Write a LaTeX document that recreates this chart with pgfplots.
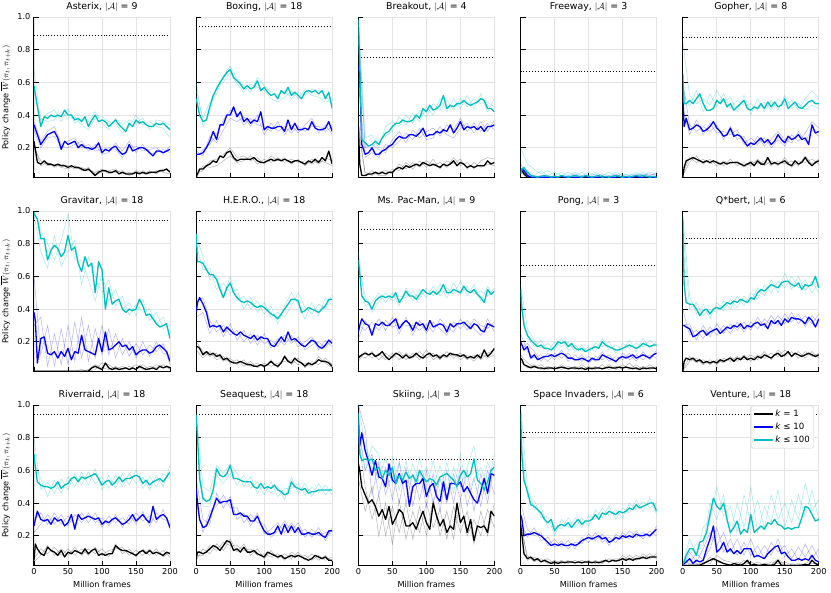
\documentclass[border=0pt]{standalone}
\usepackage{pgfplots}
\pgfplotsset{compat=1.18}
\usepackage{pgfplotstable}
\usepgfplotslibrary{groupplots}
\usepackage{fontspec}
\setmainfont{DejaVu Sans}
\definecolor{cyanc}{RGB}{0,191,191}
\newcommand{\panel}[3]{%
\addplot[black, opacity=0.3, line width=0.5pt, forget plot] table[x=x,y=p1]{#2};
\addplot[black, opacity=0.3, line width=0.5pt, forget plot] table[x=x,y=p2]{#2};
\addplot[blue, opacity=0.3, line width=0.5pt, forget plot] table[x=x,y=q1]{#2};
\addplot[blue, opacity=0.3, line width=0.5pt, forget plot] table[x=x,y=q2]{#2};
\addplot[cyanc, opacity=0.35, line width=0.5pt, forget plot] table[x=x,y=r1]{#2};
\addplot[cyanc, opacity=0.35, line width=0.5pt, forget plot] table[x=x,y=r2]{#2};
\addplot[black, dotted, line width=0.9pt, forget plot] coordinates {(0,#3) (200,#3)};
\addplot[black, line width=1.3pt, line join=round, forget plot] table[x=x,y=a]{#1};
\addplot[blue, line width=1.3pt, line join=round, forget plot] table[x=x,y=b]{#1};
\addplot[cyanc, line width=1.3pt, line join=round, forget plot] table[x=x,y=c]{#1};
}

% ---------------- Asterix
\pgfplotstableread{
x a b c
0 0.24 0.34 0.58
5 0.11 0.28 0.45
10 0.10 0.22 0.33
15 0.12 0.25 0.39
20 0.10 0.28 0.38
25 0.10 0.29 0.40
30 0.09 0.30 0.39
35 0.10 0.26 0.40
40 0.09 0.19 0.39
45 0.09 0.24 0.43
50 0.08 0.22 0.40
55 0.09 0.23 0.40
60 0.08 0.24 0.37
65 0.08 0.20 0.38
70 0.07 0.22 0.36
75 0.06 0.20 0.39
80 0.07 0.20 0.33
85 0.05 0.19 0.37
90 0.03 0.20 0.40
95 0.05 0.23 0.36
100 0.06 0.17 0.37
105 0.06 0.19 0.36
110 0.05 0.18 0.33
115 0.05 0.20 0.35
120 0.06 0.21 0.37
125 0.04 0.18 0.34
130 0.05 0.16 0.32
135 0.04 0.17 0.30
140 0.04 0.22 0.35
145 0.04 0.18 0.33
150 0.05 0.19 0.37
155 0.04 0.20 0.35
160 0.05 0.20 0.36
165 0.04 0.19 0.34
170 0.05 0.17 0.33
175 0.05 0.15 0.33
180 0.05 0.18 0.35
185 0.06 0.18 0.34
190 0.06 0.17 0.35
195 0.07 0.18 0.33
200 0.05 0.19 0.31
}\tAst
\pgfplotstableread{
x p1 p2 q1 q2 r1 r2
0 0.22 0.20 0.36 0.31 0.68 0.55
10 0.09 0.12 0.24 0.20 0.36 0.38
20 0.11 0.09 0.30 0.26 0.41 0.36
30 0.08 0.10 0.33 0.27 0.43 0.37
40 0.10 0.08 0.22 0.21 0.36 0.42
50 0.09 0.07 0.24 0.20 0.44 0.38
60 0.07 0.09 0.26 0.22 0.35 0.39
70 0.08 0.06 0.20 0.24 0.38 0.34
80 0.06 0.08 0.22 0.18 0.36 0.31
90 0.05 0.04 0.18 0.22 0.42 0.38
100 0.07 0.05 0.19 0.16 0.35 0.39
110 0.04 0.06 0.20 0.17 0.31 0.36
120 0.05 0.07 0.19 0.23 0.38 0.35
130 0.06 0.04 0.14 0.18 0.34 0.29
140 0.03 0.05 0.20 0.24 0.37 0.33
150 0.06 0.04 0.21 0.17 0.35 0.40
160 0.04 0.06 0.18 0.22 0.38 0.34
170 0.06 0.04 0.19 0.16 0.31 0.36
180 0.04 0.06 0.20 0.17 0.37 0.33
190 0.07 0.05 0.16 0.19 0.36 0.32
200 0.06 0.04 0.21 0.17 0.34 0.26
}\sAst
% ---------------- Boxing
\pgfplotstableread{
x a b c
0 0.02 0.16 0.50
5 0.07 0.16 0.40
10 0.07 0.17 0.36
15 0.09 0.20 0.37
20 0.10 0.24 0.45
25 0.12 0.30 0.52
30 0.11 0.25 0.56
35 0.15 0.34 0.60
40 0.14 0.34 0.63
45 0.17 0.40 0.66
50 0.18 0.40 0.68
55 0.14 0.45 0.63
60 0.12 0.39 0.61
65 0.13 0.42 0.59
70 0.13 0.36 0.56
75 0.13 0.38 0.58
80 0.13 0.35 0.56
85 0.14 0.37 0.57
90 0.12 0.36 0.61
95 0.11 0.42 0.55
100 0.11 0.31 0.57
105 0.12 0.33 0.54
110 0.13 0.32 0.52
115 0.12 0.32 0.53
120 0.13 0.33 0.50
125 0.12 0.33 0.55
130 0.13 0.30 0.53
135 0.12 0.37 0.57
140 0.11 0.31 0.52
145 0.12 0.35 0.54
150 0.12 0.31 0.52
155 0.11 0.31 0.50
160 0.10 0.32 0.54
165 0.12 0.31 0.55
170 0.11 0.36 0.54
175 0.13 0.32 0.55
180 0.11 0.31 0.53
185 0.14 0.31 0.55
190 0.12 0.32 0.50
195 0.18 0.36 0.54
200 0.10 0.30 0.44
}\tBox
\pgfplotstableread{
x p1 p2 q1 q2 r1 r2
0 0.04 0.03 0.14 0.18 0.55 0.60
10 0.06 0.09 0.19 0.15 0.38 0.33
20 0.12 0.08 0.22 0.27 0.48 0.42
30 0.13 0.09 0.28 0.23 0.53 0.58
40 0.16 0.12 0.37 0.31 0.64 0.60
50 0.20 0.15 0.43 0.38 0.70 0.66
60 0.14 0.11 0.41 0.36 0.62 0.59
70 0.15 0.12 0.34 0.39 0.58 0.54
80 0.12 0.15 0.38 0.33 0.54 0.59
90 0.14 0.10 0.34 0.40 0.63 0.57
100 0.10 0.13 0.33 0.28 0.58 0.55
110 0.15 0.11 0.30 0.35 0.54 0.50
120 0.12 0.14 0.36 0.30 0.52 0.48
130 0.14 0.11 0.28 0.33 0.55 0.51
140 0.10 0.13 0.34 0.29 0.50 0.55
150 0.13 0.11 0.29 0.33 0.54 0.50
160 0.09 0.12 0.34 0.30 0.52 0.56
170 0.13 0.10 0.38 0.33 0.56 0.52
180 0.10 0.12 0.29 0.33 0.55 0.51
190 0.14 0.11 0.34 0.30 0.52 0.48
200 0.12 0.09 0.28 0.33 0.46 0.49
}\sBox
% ---------------- Breakout
\pgfplotstableread{
x a b c
0 0.33 0.70 0.98
2 0.10 0.65 0.70
5 0.03 0.22 0.25
10 0.03 0.16 0.23
15 0.04 0.17 0.21
20 0.04 0.20 0.22
25 0.05 0.16 0.24
30 0.04 0.16 0.22
35 0.05 0.18 0.26
40 0.04 0.19 0.29
45 0.05 0.21 0.30
50 0.05 0.22 0.33
55 0.07 0.25 0.35
60 0.08 0.27 0.35
65 0.07 0.26 0.37
70 0.09 0.26 0.36
75 0.08 0.28 0.36
80 0.09 0.28 0.37
85 0.10 0.27 0.40
90 0.09 0.29 0.38
95 0.11 0.32 0.44
100 0.10 0.27 0.42
105 0.09 0.28 0.46
110 0.10 0.28 0.43
115 0.09 0.30 0.44
120 0.08 0.29 0.46
125 0.10 0.31 0.52
130 0.09 0.30 0.44
135 0.10 0.34 0.46
140 0.12 0.29 0.45
145 0.09 0.32 0.47
150 0.11 0.36 0.47
155 0.10 0.31 0.49
160 0.08 0.33 0.47
165 0.09 0.32 0.46
170 0.08 0.33 0.47
175 0.09 0.31 0.48
180 0.09 0.33 0.50
185 0.09 0.30 0.49
190 0.12 0.33 0.44
195 0.10 0.33 0.44
200 0.11 0.34 0.42
}\tBrk
\pgfplotstableread{
x p1 p2 q1 q2 r1 r2
0 0.30 0.35 0.95 0.60 1.00 0.85
10 0.05 0.03 0.20 0.14 0.26 0.20
20 0.03 0.06 0.22 0.17 0.28 0.20
30 0.05 0.03 0.19 0.14 0.20 0.25
40 0.06 0.03 0.17 0.22 0.33 0.27
50 0.04 0.07 0.25 0.20 0.36 0.30
60 0.10 0.06 0.30 0.24 0.33 0.39
70 0.07 0.11 0.23 0.29 0.40 0.34
80 0.11 0.07 0.31 0.25 0.35 0.41
90 0.08 0.12 0.26 0.32 0.43 0.36
100 0.12 0.08 0.30 0.25 0.39 0.45
110 0.09 0.13 0.32 0.26 0.47 0.40
120 0.11 0.07 0.27 0.33 0.43 0.50
130 0.08 0.12 0.34 0.28 0.49 0.42
140 0.14 0.10 0.31 0.26 0.43 0.50
150 0.09 0.13 0.38 0.32 0.50 0.44
160 0.11 0.07 0.30 0.35 0.45 0.52
170 0.07 0.11 0.35 0.29 0.50 0.44
180 0.12 0.08 0.30 0.36 0.47 0.53
190 0.14 0.10 0.35 0.30 0.48 0.42
200 0.13 0.09 0.31 0.37 0.45 0.50
}\sBrk
% ---------------- Freeway
\pgfplotstableread{
x a b c
0 0.06 0.06 0.04
2 0.06 0.07 0.07
5 0.04 0.06 0.08
10 0.02 0.03 0.05
15 0.015 0.02 0.03
20 0.015 0.02 0.025
25 0.015 0.02 0.02
30 0.015 0.02 0.025
35 0.015 0.02 0.03
40 0.015 0.02 0.025
45 0.015 0.02 0.02
50 0.015 0.02 0.025
55 0.015 0.02 0.02
60 0.015 0.025 0.03
65 0.015 0.02 0.025
70 0.015 0.02 0.02
75 0.015 0.02 0.025
80 0.015 0.02 0.03
85 0.015 0.02 0.025
90 0.015 0.02 0.02
95 0.015 0.025 0.03
100 0.015 0.02 0.025
105 0.015 0.02 0.02
110 0.015 0.02 0.025
115 0.015 0.02 0.03
120 0.015 0.025 0.02
125 0.015 0.02 0.025
130 0.015 0.02 0.02
135 0.015 0.02 0.025
140 0.015 0.02 0.03
145 0.015 0.025 0.025
150 0.015 0.02 0.02
155 0.015 0.02 0.025
160 0.015 0.02 0.02
165 0.015 0.02 0.025
170 0.015 0.025 0.03
175 0.015 0.02 0.025
180 0.015 0.02 0.03
185 0.015 0.025 0.025
190 0.015 0.02 0.02
195 0.015 0.02 0.025
200 0.015 0.02 0.02
}\tFrw
\pgfplotstableread{
x p1 p2 q1 q2 r1 r2
0 0.05 0.08 0.10 0.06 0.20 0.05
10 0.02 0.03 0.04 0.05 0.10 0.06
20 0.015 0.02 0.03 0.02 0.07 0.03
30 0.015 0.02 0.02 0.03 0.04 0.06
40 0.015 0.015 0.03 0.02 0.06 0.03
50 0.015 0.02 0.02 0.03 0.03 0.05
60 0.015 0.015 0.03 0.02 0.05 0.03
70 0.015 0.02 0.02 0.03 0.03 0.05
80 0.015 0.015 0.04 0.02 0.05 0.03
90 0.015 0.02 0.02 0.03 0.03 0.05
100 0.015 0.015 0.03 0.02 0.05 0.03
110 0.015 0.02 0.02 0.04 0.03 0.05
120 0.015 0.015 0.03 0.02 0.04 0.03
130 0.015 0.02 0.02 0.03 0.03 0.05
140 0.015 0.015 0.04 0.02 0.05 0.03
150 0.015 0.02 0.02 0.03 0.03 0.04
160 0.015 0.015 0.03 0.02 0.04 0.03
170 0.015 0.02 0.02 0.04 0.03 0.05
180 0.015 0.015 0.04 0.03 0.05 0.03
190 0.015 0.02 0.03 0.04 0.03 0.05
200 0.015 0.015 0.04 0.03 0.05 0.04
}\sFrw
% ---------------- Gopher
\pgfplotstableread{
x a b c
0 0.02 0.52 0.65
2 0.08 0.33 0.47
5 0.12 0.38 0.47
10 0.13 0.31 0.49
15 0.14 0.32 0.47
20 0.13 0.34 0.50
25 0.12 0.33 0.53
30 0.11 0.30 0.47
35 0.12 0.31 0.43
40 0.11 0.33 0.43
45 0.12 0.36 0.44
50 0.11 0.32 0.49
55 0.10 0.30 0.47
60 0.11 0.27 0.50
65 0.10 0.28 0.45
70 0.11 0.32 0.47
75 0.11 0.27 0.43
80 0.11 0.28 0.45
85 0.10 0.27 0.47
90 0.09 0.24 0.49
95 0.10 0.21 0.44
100 0.11 0.23 0.43
105 0.09 0.22 0.45
110 0.12 0.24 0.44
115 0.10 0.26 0.47
120 0.10 0.23 0.44
125 0.14 0.25 0.48
130 0.10 0.22 0.45
135 0.11 0.24 0.48
140 0.10 0.28 0.45
145 0.11 0.25 0.46
150 0.12 0.23 0.50
155 0.10 0.27 0.44
160 0.09 0.25 0.46
165 0.12 0.26 0.48
170 0.10 0.28 0.45
175 0.11 0.25 0.44
180 0.14 0.26 0.46
185 0.11 0.22 0.48
190 0.09 0.34 0.49
195 0.11 0.29 0.47
200 0.12 0.30 0.47
}\tGop
\pgfplotstableread{
x p1 p2 q1 q2 r1 r2
0 0.03 0.04 0.60 0.45 0.85 0.55
10 0.11 0.14 0.34 0.28 0.52 0.45
20 0.15 0.11 0.30 0.37 0.47 0.55
30 0.10 0.13 0.33 0.28 0.50 0.42
40 0.13 0.10 0.30 0.35 0.46 0.53
50 0.09 0.12 0.34 0.29 0.55 0.45
60 0.12 0.09 0.25 0.30 0.48 0.53
70 0.10 0.13 0.33 0.28 0.51 0.44
80 0.12 0.09 0.25 0.31 0.42 0.49
90 0.08 0.11 0.27 0.22 0.52 0.46
100 0.12 0.09 0.20 0.26 0.40 0.47
110 0.10 0.13 0.27 0.22 0.50 0.43
120 0.12 0.09 0.21 0.26 0.42 0.48
130 0.09 0.12 0.25 0.20 0.49 0.43
140 0.12 0.09 0.30 0.25 0.43 0.50
150 0.10 0.14 0.25 0.21 0.52 0.46
160 0.12 0.08 0.23 0.28 0.44 0.49
170 0.09 0.12 0.30 0.24 0.47 0.43
180 0.15 0.11 0.24 0.29 0.43 0.50
190 0.10 0.13 0.31 0.36 0.46 0.55
200 0.13 0.10 0.27 0.32 0.44 0.50
}\sGop
% ---------------- Gravitar
\pgfplotstableread{
x a b c
0 0.02 0.38 0.99
2 0.02 0.33 0.97
5 0.02 0.07 0.95
10 0.02 0.22 0.83
15 0.02 0.23 0.83
20 0.02 0.13 0.70
25 0.02 0.12 0.76
30 0.02 0.14 0.79
35 0.02 0.10 0.77
40 0.02 0.14 0.72
45 0.02 0.11 0.75
50 0.02 0.16 0.85
55 0.02 0.09 0.76
60 0.02 0.14 0.78
65 0.02 0.13 0.68
70 0.02 0.24 0.63
75 0.02 0.15 0.72
80 0.02 0.14 0.66
85 0.04 0.13 0.68
90 0.05 0.12 0.50
95 0.04 0.22 0.69
100 0.03 0.14 0.64
105 0.07 0.26 0.40
110 0.04 0.15 0.53
115 0.03 0.16 0.43
120 0.04 0.18 0.45
125 0.03 0.20 0.46
130 0.035 0.17 0.40
135 0.04 0.18 0.38
140 0.03 0.15 0.40
145 0.04 0.17 0.39
150 0.03 0.12 0.40
155 0.05 0.14 0.46
160 0.04 0.15 0.42
165 0.03 0.15 0.36
170 0.035 0.13 0.37
175 0.04 0.14 0.34
180 0.03 0.17 0.31
185 0.05 0.18 0.29
190 0.04 0.16 0.30
195 0.05 0.14 0.31
200 0.04 0.08 0.22
}\tGra
\pgfplotstableread{
x p1 p2 q1 q2 r1 r2
0 0.02 0.02 0.60 0.30 1.00 0.98
10 0.02 0.02 0.12 0.35 0.88 0.75
20 0.02 0.02 0.30 0.05 0.80 0.65
30 0.02 0.02 0.05 0.25 0.70 0.85
40 0.02 0.02 0.28 0.06 0.82 0.66
50 0.02 0.02 0.06 0.30 0.98 0.75
60 0.02 0.02 0.32 0.08 0.70 0.82
70 0.02 0.03 0.10 0.35 0.70 0.55
80 0.03 0.02 0.30 0.08 0.58 0.72
90 0.06 0.03 0.10 0.28 0.45 0.60
100 0.04 0.07 0.30 0.12 0.62 0.50
110 0.03 0.06 0.12 0.28 0.45 0.58
120 0.05 0.03 0.25 0.10 0.52 0.42
130 0.03 0.05 0.12 0.22 0.40 0.48
140 0.05 0.03 0.20 0.11 0.44 0.36
150 0.03 0.06 0.10 0.19 0.36 0.43
160 0.06 0.03 0.20 0.12 0.46 0.38
170 0.03 0.05 0.11 0.18 0.33 0.40
180 0.06 0.04 0.20 0.14 0.38 0.31
190 0.04 0.06 0.13 0.19 0.28 0.35
200 0.05 0.03 0.12 0.06 0.30 0.24
}\sGra
% ---------------- HERO
\pgfplotstableread{
x a b c
0 0.17 0.38 0.86
2 0.17 0.44 0.69
5 0.16 0.47 0.69
10 0.12 0.43 0.68
15 0.14 0.38 0.64
20 0.12 0.29 0.61
25 0.13 0.30 0.61
30 0.11 0.29 0.58
35 0.12 0.30 0.52
40 0.09 0.26 0.47
45 0.10 0.29 0.53
50 0.08 0.27 0.56
55 0.07 0.25 0.50
60 0.07 0.24 0.47
65 0.08 0.26 0.45
70 0.07 0.24 0.44
75 0.06 0.23 0.45
80 0.06 0.22 0.44
85 0.05 0.24 0.42
90 0.05 0.21 0.41
95 0.06 0.23 0.42
100 0.05 0.22 0.41
105 0.06 0.22 0.39
110 0.08 0.18 0.37
115 0.06 0.17 0.36
120 0.05 0.20 0.34
125 0.07 0.23 0.37
130 0.11 0.20 0.40
135 0.08 0.26 0.43
140 0.07 0.21 0.46
145 0.10 0.22 0.46
150 0.08 0.20 0.45
155 0.07 0.18 0.38
160 0.05 0.17 0.39
165 0.07 0.19 0.41
170 0.06 0.21 0.40
175 0.07 0.20 0.39
180 0.09 0.17 0.38
185 0.08 0.16 0.40
190 0.08 0.18 0.42
195 0.07 0.21 0.46
200 0.05 0.19 0.46
}\tHer
\pgfplotstableread{
x p1 p2 q1 q2 r1 r2
0 0.20 0.15 0.45 0.35 0.85 0.80
10 0.14 0.10 0.47 0.38 0.72 0.64
20 0.11 0.14 0.33 0.25 0.58 0.65
30 0.13 0.09 0.26 0.33 0.60 0.52
40 0.08 0.11 0.30 0.23 0.48 0.56
50 0.10 0.07 0.24 0.31 0.60 0.50
60 0.06 0.09 0.27 0.21 0.45 0.52
70 0.09 0.05 0.20 0.27 0.48 0.40
80 0.05 0.08 0.25 0.19 0.40 0.47
90 0.07 0.04 0.18 0.24 0.45 0.38
100 0.04 0.07 0.25 0.19 0.37 0.44
110 0.09 0.05 0.16 0.21 0.42 0.35
120 0.04 0.07 0.22 0.17 0.31 0.38
130 0.12 0.08 0.18 0.24 0.42 0.35
140 0.06 0.09 0.24 0.19 0.50 0.42
150 0.10 0.06 0.17 0.23 0.43 0.50
160 0.04 0.07 0.20 0.15 0.34 0.41
170 0.08 0.05 0.23 0.18 0.44 0.37
180 0.06 0.11 0.15 0.20 0.36 0.43
190 0.10 0.07 0.21 0.16 0.47 0.40
200 0.06 0.04 0.17 0.22 0.42 0.49
}\sHer
% ---------------- Ms Pac-Man
\pgfplotstableread{
x a b c
0 0.10 0.26 0.70
2 0.11 0.30 0.62
5 0.12 0.34 0.48
10 0.13 0.31 0.45
15 0.12 0.30 0.44
20 0.13 0.24 0.40
25 0.11 0.31 0.45
30 0.12 0.30 0.47
35 0.14 0.32 0.48
40 0.11 0.30 0.47
45 0.09 0.30 0.48
50 0.11 0.32 0.47
55 0.13 0.34 0.50
60 0.12 0.28 0.44
65 0.10 0.31 0.47
70 0.12 0.33 0.51
75 0.10 0.31 0.48
80 0.11 0.27 0.48
85 0.13 0.32 0.46
90 0.11 0.30 0.49
95 0.10 0.31 0.52
100 0.12 0.27 0.50
105 0.13 0.33 0.49
110 0.11 0.29 0.51
115 0.12 0.30 0.49
120 0.10 0.31 0.51
125 0.12 0.30 0.55
130 0.11 0.26 0.50
135 0.13 0.31 0.50
140 0.12 0.29 0.52
145 0.12 0.31 0.51
150 0.11 0.31 0.50
155 0.12 0.32 0.54
160 0.10 0.30 0.51
165 0.11 0.28 0.50
170 0.10 0.31 0.52
175 0.12 0.30 0.49
180 0.10 0.27 0.47
185 0.15 0.26 0.44
190 0.11 0.31 0.52
195 0.13 0.30 0.49
200 0.16 0.29 0.51
}\tPac
\pgfplotstableread{
x p1 p2 q1 q2 r1 r2
0 0.08 0.12 0.22 0.30 0.75 0.65
10 0.14 0.10 0.33 0.27 0.42 0.48
20 0.10 0.14 0.26 0.32 0.44 0.38
30 0.13 0.09 0.34 0.27 0.50 0.44
40 0.09 0.13 0.27 0.33 0.44 0.50
50 0.13 0.10 0.35 0.29 0.50 0.45
60 0.09 0.14 0.25 0.31 0.42 0.48
70 0.13 0.09 0.35 0.30 0.53 0.47
80 0.10 0.13 0.24 0.30 0.45 0.51
90 0.14 0.09 0.33 0.27 0.52 0.46
100 0.10 0.15 0.25 0.31 0.47 0.53
110 0.13 0.09 0.32 0.26 0.54 0.48
120 0.09 0.12 0.28 0.34 0.48 0.55
130 0.14 0.10 0.24 0.29 0.53 0.47
140 0.10 0.13 0.32 0.26 0.49 0.56
150 0.13 0.09 0.28 0.34 0.57 0.49
160 0.09 0.12 0.33 0.27 0.48 0.54
170 0.12 0.08 0.28 0.34 0.55 0.49
180 0.09 0.13 0.24 0.30 0.45 0.51
190 0.13 0.10 0.34 0.28 0.54 0.48
200 0.15 0.12 0.26 0.32 0.47 0.53
}\sPac
% ---------------- Pong
\pgfplotstableread{
x a b c
0 0.10 0.20 0.52
2 0.09 0.18 0.40
5 0.06 0.15 0.30
10 0.05 0.17 0.24
15 0.04 0.10 0.21
20 0.05 0.12 0.19
25 0.04 0.09 0.17
30 0.04 0.10 0.18
35 0.035 0.11 0.16
40 0.04 0.11 0.16
45 0.04 0.12 0.15
50 0.035 0.11 0.17
55 0.04 0.12 0.20
60 0.045 0.13 0.19
65 0.04 0.12 0.20
70 0.035 0.10 0.17
75 0.04 0.10 0.19
80 0.04 0.09 0.16
85 0.035 0.09 0.15
90 0.04 0.10 0.16
95 0.03 0.09 0.14
100 0.04 0.08 0.15
105 0.035 0.10 0.16
110 0.04 0.09 0.17
115 0.04 0.09 0.16
120 0.035 0.12 0.20
125 0.04 0.11 0.18
130 0.045 0.10 0.17
135 0.04 0.09 0.16
140 0.04 0.08 0.15
145 0.045 0.10 0.15
150 0.04 0.11 0.16
155 0.045 0.10 0.17
160 0.04 0.11 0.18
165 0.035 0.12 0.17
170 0.04 0.10 0.16
175 0.03 0.11 0.17
180 0.04 0.12 0.19
185 0.035 0.11 0.18
190 0.04 0.10 0.17
195 0.04 0.12 0.18
200 0.035 0.13 0.18
}\tPon
\pgfplotstableread{
x p1 p2 q1 q2 r1 r2
0 0.12 0.08 0.25 0.15 0.55 0.45
10 0.07 0.04 0.14 0.19 0.28 0.22
20 0.04 0.06 0.10 0.14 0.21 0.17
30 0.06 0.03 0.12 0.08 0.16 0.21
40 0.03 0.05 0.08 0.13 0.19 0.14
50 0.05 0.03 0.13 0.09 0.15 0.20
60 0.03 0.06 0.10 0.15 0.22 0.17
70 0.05 0.03 0.13 0.08 0.15 0.20
80 0.03 0.05 0.08 0.12 0.18 0.14
90 0.06 0.03 0.12 0.08 0.14 0.18
100 0.03 0.05 0.07 0.11 0.17 0.13
110 0.05 0.03 0.11 0.08 0.14 0.19
120 0.03 0.06 0.09 0.14 0.22 0.17
130 0.06 0.03 0.12 0.08 0.15 0.20
140 0.03 0.05 0.07 0.11 0.18 0.13
150 0.06 0.03 0.13 0.09 0.15 0.19
160 0.03 0.07 0.09 0.13 0.21 0.16
170 0.06 0.03 0.12 0.08 0.14 0.19
180 0.03 0.05 0.09 0.14 0.22 0.17
190 0.06 0.03 0.12 0.09 0.16 0.21
200 0.03 0.05 0.10 0.15 0.20 0.17
}\sPon
% ---------------- Qbert
\pgfplotstableread{
x a b c
0 0.02 0.30 0.95
2 0.08 0.30 0.55
5 0.10 0.29 0.44
10 0.09 0.28 0.43
15 0.10 0.23 0.43
20 0.08 0.24 0.40
25 0.09 0.26 0.36
30 0.07 0.27 0.39
35 0.08 0.24 0.40
40 0.07 0.26 0.37
45 0.08 0.27 0.40
50 0.07 0.28 0.41
55 0.09 0.25 0.40
60 0.08 0.27 0.42
65 0.09 0.29 0.44
70 0.10 0.28 0.43
75 0.08 0.30 0.45
80 0.10 0.29 0.44
85 0.09 0.31 0.46
90 0.11 0.28 0.45
95 0.09 0.30 0.44
100 0.10 0.29 0.47
105 0.09 0.31 0.46
110 0.11 0.32 0.50
115 0.10 0.30 0.52
120 0.12 0.31 0.51
125 0.11 0.28 0.53
130 0.10 0.33 0.55
135 0.12 0.31 0.54
140 0.13 0.33 0.53
145 0.11 0.30 0.56
150 0.12 0.34 0.57
155 0.14 0.32 0.57
160 0.11 0.35 0.55
165 0.13 0.34 0.54
170 0.12 0.34 0.56
175 0.11 0.33 0.52
180 0.12 0.31 0.55
185 0.13 0.35 0.54
190 0.12 0.33 0.55
195 0.11 0.29 0.60
200 0.12 0.34 0.53
}\tQbe
\pgfplotstableread{
x p1 p2 q1 q2 r1 r2
0 0.02 0.02 0.40 0.30 0.98 0.90
10 0.11 0.08 0.24 0.31 0.48 0.40
20 0.07 0.10 0.27 0.21 0.37 0.44
30 0.09 0.06 0.22 0.30 0.43 0.36
40 0.06 0.09 0.29 0.23 0.34 0.40
50 0.09 0.06 0.24 0.31 0.44 0.38
60 0.07 0.10 0.30 0.25 0.39 0.45
70 0.11 0.08 0.25 0.31 0.46 0.40
80 0.08 0.11 0.32 0.27 0.41 0.48
90 0.12 0.09 0.26 0.32 0.48 0.42
100 0.08 0.12 0.32 0.27 0.44 0.50
110 0.12 0.09 0.28 0.35 0.53 0.46
120 0.10 0.14 0.34 0.29 0.48 0.55
130 0.13 0.09 0.30 0.36 0.58 0.50
140 0.11 0.15 0.36 0.30 0.50 0.57
150 0.15 0.11 0.31 0.37 0.62 0.53
160 0.11 0.14 0.38 0.32 0.52 0.60
170 0.14 0.10 0.31 0.37 0.60 0.53
180 0.10 0.14 0.36 0.29 0.51 0.58
190 0.14 0.11 0.31 0.36 0.57 0.50
200 0.10 0.13 0.37 0.31 0.50 0.56
}\sQbe
% ---------------- Riverraid
\pgfplotstableread{
x a b c
0 0.05 0.26 0.70
2 0.15 0.30 0.62
5 0.12 0.35 0.53
10 0.09 0.30 0.51
15 0.08 0.29 0.50
20 0.13 0.30 0.50
25 0.11 0.27 0.49
30 0.10 0.31 0.50
35 0.08 0.29 0.53
40 0.11 0.30 0.49
45 0.07 0.26 0.51
50 0.10 0.28 0.52
55 0.09 0.33 0.55
60 0.11 0.24 0.56
65 0.10 0.33 0.53
70 0.09 0.30 0.56
75 0.12 0.31 0.55
80 0.09 0.32 0.56
85 0.11 0.31 0.57
90 0.12 0.30 0.58
95 0.08 0.31 0.55
100 0.09 0.27 0.51
105 0.08 0.29 0.53
110 0.09 0.28 0.54
115 0.09 0.30 0.51
120 0.14 0.31 0.53
125 0.12 0.29 0.56
130 0.11 0.27 0.53
135 0.11 0.28 0.55
140 0.10 0.30 0.55
145 0.09 0.33 0.56
150 0.08 0.29 0.57
155 0.10 0.31 0.56
160 0.11 0.33 0.52
165 0.09 0.30 0.54
170 0.11 0.28 0.51
175 0.09 0.38 0.53
180 0.10 0.30 0.54
185 0.09 0.32 0.55
190 0.08 0.33 0.53
195 0.10 0.31 0.56
200 0.09 0.25 0.59
}\tRiv
\pgfplotstableread{
x p1 p2 q1 q2 r1 r2
0 0.06 0.04 0.22 0.30 0.80 0.65
10 0.12 0.08 0.27 0.34 0.48 0.55
20 0.09 0.14 0.33 0.27 0.53 0.44
30 0.13 0.08 0.27 0.34 0.46 0.54
40 0.08 0.12 0.33 0.27 0.55 0.46
50 0.12 0.08 0.26 0.32 0.48 0.56
60 0.08 0.13 0.33 0.27 0.58 0.50
70 0.12 0.08 0.28 0.34 0.51 0.59
80 0.08 0.12 0.34 0.28 0.59 0.51
90 0.13 0.09 0.28 0.34 0.52 0.61
100 0.08 0.12 0.31 0.25 0.56 0.48
110 0.11 0.07 0.26 0.32 0.49 0.57
120 0.12 0.15 0.33 0.28 0.57 0.49
130 0.13 0.09 0.25 0.31 0.50 0.58
140 0.08 0.12 0.33 0.27 0.58 0.51
150 0.11 0.07 0.27 0.34 0.52 0.60
160 0.08 0.12 0.35 0.29 0.56 0.49
170 0.12 0.08 0.26 0.32 0.48 0.56
180 0.08 0.12 0.34 0.28 0.57 0.50
190 0.11 0.07 0.30 0.36 0.50 0.58
200 0.07 0.10 0.29 0.24 0.63 0.55
}\sRiv
% ---------------- Seaquest
\pgfplotstableread{
x a b c
0 0.06 0.49 0.94
2 0.10 0.40 0.80
5 0.10 0.30 0.55
10 0.09 0.25 0.43
15 0.10 0.26 0.41
20 0.12 0.31 0.42
25 0.14 0.37 0.48
30 0.13 0.43 0.61
35 0.11 0.40 0.57
40 0.14 0.41 0.56
45 0.17 0.41 0.58
50 0.16 0.42 0.63
55 0.11 0.33 0.55
60 0.12 0.33 0.55
65 0.10 0.34 0.54
70 0.13 0.32 0.53
75 0.10 0.32 0.53
80 0.10 0.29 0.53
85 0.11 0.29 0.50
90 0.09 0.32 0.49
95 0.08 0.27 0.52
100 0.07 0.23 0.49
105 0.10 0.21 0.50
110 0.09 0.21 0.49
115 0.08 0.22 0.51
120 0.07 0.26 0.48
125 0.08 0.21 0.47
130 0.06 0.27 0.45
135 0.07 0.22 0.46
140 0.08 0.26 0.53
145 0.07 0.22 0.50
150 0.08 0.25 0.49
155 0.07 0.21 0.48
160 0.06 0.21 0.49
165 0.05 0.22 0.46
170 0.06 0.21 0.47
175 0.08 0.21 0.47
180 0.07 0.22 0.48
185 0.06 0.20 0.48
190 0.07 0.19 0.48
195 0.05 0.23 0.48
200 0.05 0.23 0.48
}\tSea
\pgfplotstableread{
x p1 p2 q1 q2 r1 r2
0 0.05 0.08 0.55 0.40 0.95 0.90
10 0.12 0.08 0.30 0.22 0.50 0.38
20 0.09 0.14 0.27 0.35 0.47 0.38
30 0.15 0.11 0.46 0.38 0.63 0.57
40 0.11 0.16 0.37 0.45 0.58 0.52
50 0.18 0.14 0.44 0.37 0.64 0.58
60 0.10 0.14 0.30 0.37 0.58 0.51
70 0.15 0.11 0.34 0.28 0.50 0.57
80 0.08 0.12 0.26 0.33 0.56 0.49
90 0.12 0.08 0.34 0.28 0.46 0.53
100 0.06 0.09 0.21 0.27 0.52 0.45
110 0.11 0.07 0.24 0.19 0.46 0.53
120 0.06 0.09 0.28 0.23 0.50 0.44
130 0.09 0.05 0.22 0.29 0.42 0.49
140 0.06 0.10 0.28 0.23 0.56 0.49
150 0.10 0.07 0.22 0.28 0.46 0.52
160 0.05 0.08 0.24 0.19 0.52 0.45
170 0.09 0.05 0.19 0.24 0.44 0.50
180 0.05 0.08 0.25 0.20 0.52 0.46
190 0.08 0.05 0.17 0.22 0.45 0.51
200 0.04 0.07 0.25 0.21 0.50 0.45
}\sSea
% ---------------- Skiing
\pgfplotstableread{
x a b c
0 0.64 0.90 0.95
2 0.60 0.75 0.70
5 0.50 0.83 0.66
10 0.45 0.72 0.67
15 0.40 0.65 0.66
20 0.42 0.57 0.67
25 0.38 0.66 0.60
30 0.32 0.56 0.62
35 0.36 0.55 0.55
40 0.30 0.50 0.60
45 0.38 0.64 0.57
50 0.27 0.54 0.62
55 0.31 0.52 0.52
60 0.36 0.58 0.57
65 0.34 0.52 0.54
70 0.26 0.54 0.59
75 0.26 0.38 0.55
80 0.28 0.50 0.57
85 0.24 0.52 0.53
90 0.30 0.52 0.60
95 0.35 0.55 0.56
100 0.28 0.44 0.53
105 0.24 0.50 0.55
110 0.40 0.52 0.54
115 0.32 0.44 0.51
120 0.26 0.41 0.56
125 0.30 0.53 0.57
130 0.22 0.42 0.58
135 0.26 0.52 0.56
140 0.24 0.52 0.54
145 0.40 0.51 0.50
150 0.28 0.53 0.57
155 0.32 0.47 0.60
160 0.22 0.50 0.56
165 0.30 0.46 0.58
170 0.17 0.42 0.67
175 0.26 0.40 0.54
180 0.25 0.47 0.52
185 0.26 0.55 0.48
190 0.22 0.46 0.53
195 0.35 0.58 0.60
200 0.32 0.57 0.62
}\tSki
\pgfplotstableread{
x p1 p2 q1 q2 r1 r2
0 0.80 0.55 1.00 0.85 1.00 0.90
10 0.50 0.35 0.85 0.60 0.75 0.60
20 0.30 0.50 0.45 0.70 0.62 0.75
30 0.45 0.20 0.65 0.45 0.55 0.70
40 0.20 0.40 0.45 0.62 0.68 0.50
50 0.38 0.15 0.60 0.42 0.52 0.68
60 0.22 0.42 0.40 0.65 0.65 0.48
70 0.40 0.18 0.62 0.40 0.50 0.66
80 0.18 0.35 0.38 0.58 0.64 0.47
90 0.38 0.22 0.60 0.42 0.52 0.68
100 0.20 0.40 0.38 0.60 0.62 0.48
110 0.42 0.25 0.58 0.40 0.50 0.66
120 0.20 0.36 0.35 0.55 0.63 0.46
130 0.35 0.18 0.60 0.40 0.48 0.65
140 0.18 0.38 0.40 0.58 0.62 0.46
150 0.42 0.22 0.62 0.42 0.50 0.70
160 0.20 0.35 0.38 0.60 0.62 0.46
170 0.30 0.15 0.55 0.35 0.75 0.55
180 0.20 0.35 0.38 0.58 0.48 0.62
190 0.36 0.20 0.60 0.40 0.65 0.50
200 0.25 0.40 0.45 0.65 0.55 0.70
}\sSki
% ---------------- Space Invaders
\pgfplotstableread{
x a b c
0 0.27 0.33 0.95
2 0.20 0.30 0.68
5 0.09 0.20 0.54
10 0.06 0.21 0.47
15 0.07 0.21 0.39
20 0.05 0.22 0.38
25 0.06 0.21 0.36
30 0.04 0.20 0.34
35 0.05 0.18 0.30
40 0.04 0.16 0.28
45 0.03 0.14 0.30
50 0.04 0.15 0.23
55 0.03 0.14 0.26
60 0.04 0.15 0.27
65 0.035 0.14 0.26
70 0.04 0.14 0.28
75 0.04 0.15 0.25
80 0.035 0.14 0.28
85 0.04 0.15 0.30
90 0.035 0.17 0.27
95 0.04 0.18 0.29
100 0.04 0.19 0.29
105 0.035 0.18 0.30
110 0.04 0.19 0.33
115 0.035 0.20 0.30
120 0.04 0.18 0.34
125 0.05 0.19 0.33
130 0.04 0.16 0.35
135 0.05 0.17 0.34
140 0.045 0.19 0.33
145 0.05 0.18 0.35
150 0.06 0.20 0.34
155 0.05 0.19 0.35
160 0.06 0.20 0.37
165 0.05 0.19 0.36
170 0.06 0.21 0.39
175 0.06 0.20 0.37
180 0.07 0.20 0.38
185 0.06 0.21 0.39
190 0.07 0.20 0.40
195 0.07 0.22 0.40
200 0.07 0.24 0.35
}\tSpa
\pgfplotstableread{
x p1 p2 q1 q2 r1 r2
0 0.30 0.25 0.40 0.30 1.00 0.80
10 0.05 0.08 0.24 0.19 0.50 0.44
20 0.07 0.04 0.20 0.25 0.36 0.42
30 0.04 0.06 0.22 0.17 0.38 0.31
40 0.06 0.03 0.14 0.19 0.25 0.32
50 0.03 0.05 0.18 0.13 0.26 0.20
60 0.05 0.03 0.13 0.17 0.24 0.30
70 0.03 0.05 0.17 0.12 0.31 0.25
80 0.05 0.03 0.12 0.16 0.25 0.31
90 0.03 0.05 0.19 0.15 0.31 0.25
100 0.05 0.03 0.16 0.21 0.26 0.32
110 0.03 0.05 0.22 0.17 0.36 0.30
120 0.05 0.03 0.16 0.21 0.31 0.37
130 0.04 0.06 0.19 0.14 0.38 0.32
140 0.06 0.04 0.16 0.21 0.30 0.36
150 0.05 0.08 0.22 0.18 0.37 0.31
160 0.08 0.05 0.18 0.23 0.34 0.40
170 0.05 0.08 0.23 0.19 0.42 0.36
180 0.09 0.06 0.18 0.22 0.35 0.41
190 0.06 0.09 0.23 0.19 0.43 0.37
200 0.09 0.06 0.20 0.26 0.33 0.40
}\sSpa
% ---------------- Venture
\pgfplotstableread{
x a b c
0 0.015 0.02 0.02
5 0.015 0.04 0.08
10 0.02 0.06 0.12
15 0.015 0.03 0.12
20 0.02 0.05 0.08
25 0.02 0.04 0.16
30 0.03 0.05 0.17
35 0.04 0.12 0.22
40 0.05 0.18 0.33
45 0.06 0.26 0.43
50 0.05 0.10 0.38
55 0.04 0.12 0.36
60 0.03 0.16 0.40
65 0.025 0.10 0.30
70 0.02 0.12 0.22
75 0.03 0.09 0.25
80 0.025 0.11 0.29
85 0.02 0.09 0.21
90 0.03 0.12 0.24
95 0.05 0.12 0.22
100 0.02 0.12 0.33
105 0.025 0.07 0.22
110 0.02 0.08 0.24
115 0.02 0.07 0.26
120 0.025 0.06 0.24
125 0.02 0.09 0.28
130 0.02 0.11 0.27
135 0.025 0.13 0.30
140 0.05 0.14 0.27
145 0.02 0.09 0.26
150 0.02 0.10 0.24
155 0.015 0.07 0.25
160 0.02 0.05 0.24
165 0.015 0.05 0.25
170 0.02 0.06 0.25
175 0.02 0.05 0.31
180 0.025 0.06 0.38
185 0.02 0.05 0.37
190 0.05 0.08 0.33
195 0.03 0.05 0.29
200 0.02 0.04 0.30
}\tVen
\pgfplotstableread{
x p1 p2 q1 q2 r1 r2
0 0.02 0.02 0.02 0.03 0.03 0.02
10 0.02 0.03 0.10 0.04 0.18 0.08
20 0.03 0.02 0.04 0.09 0.08 0.15
30 0.02 0.04 0.12 0.05 0.25 0.14
40 0.07 0.03 0.22 0.12 0.30 0.40
50 0.04 0.08 0.14 0.25 0.50 0.30
60 0.03 0.05 0.22 0.10 0.32 0.45
70 0.02 0.04 0.10 0.18 0.38 0.20
80 0.04 0.02 0.18 0.08 0.22 0.40
90 0.02 0.05 0.08 0.16 0.45 0.25
100 0.04 0.02 0.18 0.08 0.28 0.50
110 0.02 0.04 0.07 0.14 0.42 0.22
120 0.03 0.02 0.14 0.06 0.25 0.38
130 0.02 0.04 0.08 0.16 0.45 0.28
140 0.06 0.03 0.18 0.10 0.30 0.48
150 0.02 0.04 0.07 0.14 0.40 0.25
160 0.03 0.02 0.12 0.06 0.28 0.42
170 0.02 0.03 0.05 0.13 0.45 0.30
180 0.03 0.02 0.15 0.07 0.32 0.52
190 0.05 0.03 0.06 0.14 0.48 0.35
200 0.02 0.03 0.12 0.06 0.30 0.42
}\sVen

\begin{document}
\begin{tikzpicture}
\begin{groupplot}[
  group style={group size=5 by 3, group name=G, horizontal sep=26.2pt, vertical sep=33pt,
    xticklabels at=edge bottom, yticklabels at=edge left},
  scale only axis, width=136pt, height=161pt,
  xmin=0, xmax=200, ymin=0.015, ymax=1.0,
  xtick={0,50,100,150,200}, ytick={0.2,0.4,0.6,0.8,1.0},
  yticklabel style={/pgf/number format/.cd, fixed, fixed zerofill, precision=1},
  /pgf/number format/assume math mode=true,
  axis x line*=bottom, axis y line*=left,
  axis line style={black, line width=1pt},
  tick align=inside, major tick length=5pt,
  tick style={black, line width=0.9pt},
  grid=major, major grid style={gray!22, line width=0.7pt},
  tick label style={font=\fontsize{8.2}{9}\selectfont},
  label style={font=\fontsize{8.2}{9}\selectfont},
  title style={font=\fontsize{9.4}{10}\selectfont, yshift=-4pt},
  xticklabel style={yshift=1pt},
  clip mode=individual,
]
\nextgroupplot[title={Asterix, $|\mathcal{A}|$ = 9}, ylabel={Policy change $\overline{W}(\pi_t,\pi_{t+k})$}]
\panel{\tAst}{\sAst}{0.8889}
\nextgroupplot[title={Boxing, $|\mathcal{A}|$ = 18}]
\panel{\tBox}{\sBox}{0.9444}
\nextgroupplot[title={Breakout, $|\mathcal{A}|$ = 4}]
\panel{\tBrk}{\sBrk}{0.75}
\nextgroupplot[title={Freeway, $|\mathcal{A}|$ = 3}]
\panel{\tFrw}{\sFrw}{0.6667}
\nextgroupplot[title={Gopher, $|\mathcal{A}|$ = 8}]
\panel{\tGop}{\sGop}{0.875}
\nextgroupplot[title={Gravitar, $|\mathcal{A}|$ = 18}, ylabel={Policy change $\overline{W}(\pi_t,\pi_{t+k})$}]
\panel{\tGra}{\sGra}{0.9444}
\nextgroupplot[title={H.E.R.O., $|\mathcal{A}|$ = 18}]
\panel{\tHer}{\sHer}{0.9444}
\nextgroupplot[title={Ms. Pac-Man, $|\mathcal{A}|$ = 9}]
\panel{\tPac}{\sPac}{0.8889}
\nextgroupplot[title={Pong, $|\mathcal{A}|$ = 3}]
\panel{\tPon}{\sPon}{0.6667}
\nextgroupplot[title={Q*bert, $|\mathcal{A}|$ = 6}]
\panel{\tQbe}{\sQbe}{0.8333}
\nextgroupplot[title={Riverraid, $|\mathcal{A}|$ = 18}, ylabel={Policy change $\overline{W}(\pi_t,\pi_{t+k})$}, xlabel={Million frames}]
\panel{\tRiv}{\sRiv}{0.9444}
\nextgroupplot[title={Seaquest, $|\mathcal{A}|$ = 18}, xlabel={Million frames}]
\panel{\tSea}{\sSea}{0.9444}
\nextgroupplot[title={Skiing, $|\mathcal{A}|$ = 3}, xlabel={Million frames}]
\panel{\tSki}{\sSki}{0.6667}
\nextgroupplot[title={Space Invaders, $|\mathcal{A}|$ = 6}, xlabel={Million frames}]
\panel{\tSpa}{\sSpa}{0.8333}
\nextgroupplot[title={Venture, $|\mathcal{A}|$ = 18}, xlabel={Million frames},
  legend style={at={(0.965,0.995)}, anchor=north east, draw=gray!40, rounded corners=1.5pt,
    fill=white, font=\fontsize{8.6}{10}\selectfont, inner xsep=2pt, inner ysep=2pt, row sep=1pt},
  legend cell align=left]
\addlegendimage{legend image code/.code={\draw[draw=black, line width=1.4pt] (0pt,0pt) -- (19pt,0pt);}}
\addlegendimage{legend image code/.code={\draw[draw=blue, line width=1.4pt] (0pt,0pt) -- (19pt,0pt);}}
\addlegendimage{legend image code/.code={\draw[draw=cyanc, line width=1.4pt] (0pt,0pt) -- (19pt,0pt);}}
\panel{\tVen}{\sVen}{0.9444}
\legend{\textit{k} = 1, \textit{k} ≤ 10, \textit{k} ≤ 100}
\end{groupplot}
\pgfresetboundingbox
\path[use as bounding box] ([xshift=-34pt,yshift=17pt]G c1r1.north west) rectangle ([xshift=797pt,yshift=-576pt]G c1r1.north west);
\end{tikzpicture}
\end{document}
